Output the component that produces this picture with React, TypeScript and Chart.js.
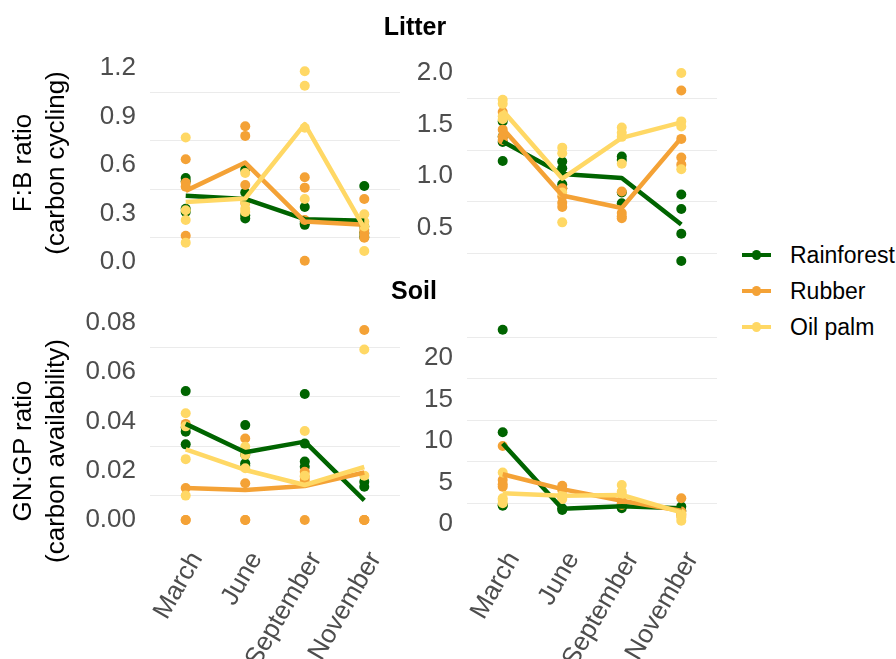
import React, { useEffect, useRef } from 'react';
import { Chart, registerables } from 'chart.js';
Chart.register(...registerables);

const FONT = "'Liberation Sans', Arial, Helvetica, sans-serif";

const months = ['March', 'June', 'September', 'November'];
const monthIndex = [0, 1, 2, 3];
const groups = ['Rainforest', 'Rubber', 'Oil palm'];
const groupColors = ['#006400', '#F4A236', '#FFD865'];

// ---- Litter, F:B ratio (points per month, per land use) ----
const litterFB_rainforest = [[0.52, 0.5, 0.33, 0.31], [0.57, 0.43, 0.29, 0.27], [0.34, 0.25, 0.24, 0.23], [0.47, 0.22, 0.18, 0.155]];
const litterFB_rubber = [[0.635, 0.49, 0.465, 0.163], [0.84, 0.78, 0.476, 0.365], [0.524, 0.46, 0.26, 0.008], [0.39, 0.2, 0.177, 0.15]];
const litterFB_oilpalm = [[0.77, 0.32, 0.26, 0.12], [0.55, 0.37, 0.33, 0.31], [1.18, 1.09, 0.83, 0.39], [0.295, 0.25, 0.22, 0.068]];
const litterFB_meanRainforest = [0.41, 0.39, 0.265, 0.255];
const litterFB_meanRubber = [0.44, 0.615, 0.25, 0.23];
const litterFB_meanOilpalm = [0.372, 0.393, 0.853, 0.21];

// ---- Litter, GN:GP ratio ----
const litterGN_rainforest = [[1.53, 1.38, 1.33, 1.146], [1.14, 1.075, 0.92, 0.88], [1.19, 1.155, 0.84, 0.735], [0.82, 0.68, 0.44, 0.175]];
const litterGN_rubber = [[1.62, 1.45, 1.38, 1.35], [0.88, 0.8, 0.74, 0.7], [0.85, 0.64, 0.61, 0.59], [1.83, 1.36, 1.11, 1.18]];
const litterGN_oilpalm = [[1.74, 1.7, 1.58, 1.55], [1.275, 1.22, 0.84, 0.55], [1.47, 1.42, 1.38, 1.12], [2.0, 1.53, 1.48, 1.065]];
const litterGN_meanRainforest = [1.335, 1.02, 0.98, 0.53];
const litterGN_meanRubber = [1.46, 0.81, 0.69, 1.37];
const litterGN_meanOilpalm = [1.635, 0.975, 1.37, 1.52];

// ---- Soil, F:B ratio ----
const soilFB_rainforest = [[0.0523, 0.0375, 0.0358, 0.0307], [0.0385, 0.0265, 0.023, 0.022], [0.0511, 0.031, 0.0237, 0.0216], [0.0155, 0.0135]];
const soilFB_rubber = [[0.039, 0.013, 0.0, 0.0], [0.0331, 0.0149, 0.0, 0.0], [0.0196, 0.0175, 0.0162, 0.0], [0.0771, 0.0, 0.0, 0.0]];
const soilFB_oilpalm = [[0.0433, 0.038, 0.0247, 0.0099], [0.0297, 0.0264, 0.021], [0.0361, 0.018], [0.0692, 0.018]];
const soilFB_meanRainforest = [0.039, 0.0275, 0.0318, 0.008];
const soilFB_meanRubber = [0.013, 0.0122, 0.0138, 0.0193];
const soilFB_meanOilpalm = [0.0287, 0.0203, 0.0142, 0.0215];

// ---- Soil, GN:GP ratio ----
const soilGN_rainforest = [[23.4, 11.05, 2.3, 2.2], [1.7, 1.9], [1.9, 2.3], [2.1, 1.6]];
const soilGN_rubber = [[9.4, 5.3, 4.8, 4.5], [4.6, 4.1, 3.3], [2.8, 2.5, 2.3], [3.1, 1.5, 1.2, 1.0]];
const soilGN_oilpalm = [[6.2, 3.1, 2.9, 2.5], [3.5, 3.0], [4.7, 3.9, 3.6], [1.2, 0.8, 0.4]];
const soilGN_meanRainforest = [9.7, 1.85, 2.15, 1.9];
const soilGN_meanRubber = [6.0, 4.2, 2.8, 1.6];
const soilGN_meanOilpalm = [3.7, 3.4, 3.5, 1.4];

// ---- tick labels / grid values ----
const tlTickValues = [0, 0.3, 0.6, 0.9, 1.2];
const tlTickLabels = ['0.0', '0.3', '0.6', '0.9', '1.2'];
const tlGridValues = [0.15, 0.45, 0.75, 1.05];
const trTickValues = [0.5, 1.0, 1.5, 2.0];
const trTickLabels = ['0.5', '1.0', '1.5', '2.0'];
const trGridValues = [0.25, 0.75, 1.25, 1.75];
const blTickValues = [0, 0.02, 0.04, 0.06, 0.08];
const blTickLabels = ['0.00', '0.02', '0.04', '0.06', '0.08'];
const blGridValues = [0.01, 0.03, 0.05, 0.07];
const brTickValues = [0, 5, 10, 15, 20];
const brTickLabels = ['0', '5', '10', '15', '20'];
const brGridValues = [2.5, 7.5, 12.5, 17.5, 22.5];

type PanelSpec = {
  left: number; top: number; w: number; h: number;
  padTop: number; padBottom: number; padRight: number;
  yWidth: number; xHeight: number; showX: boolean;
  yMin: number; yMax: number;
  tickValues: number[]; tickLabels: string[]; gridValues: number[];
  points: number[][][]; means: number[][];
};

const panels: PanelSpec[] = [
  {
    left: 60, top: 20, w: 350, h: 292, padTop: 40.5, padBottom: 40.4, padRight: 10,
    yWidth: 90, xHeight: 0, showX: false, yMin: -0.059, yMax: 1.246,
    tickValues: tlTickValues, tickLabels: tlTickLabels, gridValues: tlGridValues,
    points: [litterFB_rainforest, litterFB_rubber, litterFB_oilpalm],
    means: [litterFB_meanRainforest, litterFB_meanRubber, litterFB_meanOilpalm],
  },
  {
    left: 405, top: 20, w: 322, h: 292, padTop: 40.5, padBottom: 40.4, padRight: 10,
    yWidth: 62, xHeight: 0, showX: false, yMin: 0.072, yMax: 2.121,
    tickValues: trTickValues, tickLabels: trTickLabels, gridValues: trGridValues,
    points: [litterGN_rainforest, litterGN_rubber, litterGN_oilpalm],
    means: [litterGN_meanRainforest, litterGN_meanRubber, litterGN_meanOilpalm],
  },
  {
    left: 60, top: 280, w: 350, h: 379, padTop: 40.4, padBottom: 0, padRight: 10,
    yWidth: 90, xHeight: 129.5, showX: true, yMin: -0.00386, yMax: 0.081,
    tickValues: blTickValues, tickLabels: blTickLabels, gridValues: blGridValues,
    points: [soilFB_rainforest, soilFB_rubber, soilFB_oilpalm],
    means: [soilFB_meanRainforest, soilFB_meanRubber, soilFB_meanOilpalm],
  },
  {
    left: 405, top: 280, w: 322, h: 379, padTop: 40.4, padBottom: 0, padRight: 10,
    yWidth: 62, xHeight: 129.5, showX: true, yMin: -0.66, yMax: 24.53,
    tickValues: brTickValues, tickLabels: brTickLabels, gridValues: brGridValues,
    points: [soilGN_rainforest, soilGN_rubber, soilGN_oilpalm],
    means: [soilGN_meanRainforest, soilGN_meanRubber, soilGN_meanOilpalm],
  },
];

function buildDatasets(points: number[][][], means: number[][]) {
  const pointSets = points.map((byMonth, g) => ({
    label: groups[g],
    data: byMonth.flatMap((vals, m) => vals.map((v) => ({ x: monthIndex[m], y: v }))),
    backgroundColor: groupColors[g],
    borderColor: groupColors[g],
    borderWidth: 0,
    pointRadius: 5,
    pointBorderWidth: 0,
    showLine: false,
    order: 5 - g,
  }));
  const lineSets = means.map((vals, g) => ({
    label: groups[g] + ' mean',
    data: vals.map((v, m) => ({ x: monthIndex[m], y: v })),
    borderColor: groupColors[g],
    backgroundColor: groupColors[g],
    borderWidth: 4.5,
    borderJoinStyle: 'round',
    showLine: true,
    pointRadius: 0,
    order: 2 - g,
  }));
  return [...pointSets, ...lineSets];
}

function Panel({ spec }: { spec: PanelSpec }) {
  const ref = useRef<HTMLCanvasElement>(null);
  useEffect(() => {
    const allTicks = [...spec.tickValues, ...spec.gridValues].sort((a, b) => a - b);
    const chart = new Chart(ref.current as HTMLCanvasElement, {
      type: 'scatter',
      data: { datasets: buildDatasets(spec.points, spec.means) as any },
      options: {
        responsive: false,
        animation: false,
        events: [],
        layout: { padding: { left: 0, right: spec.padRight, top: spec.padTop, bottom: spec.padBottom } },
        plugins: { legend: { display: false }, tooltip: { enabled: false } },
        scales: {
          x: {
            type: 'linear',
            min: -0.6,
            max: 3.6,
            display: spec.showX,
            grid: { display: false, drawTicks: false },
            border: { display: false },
            afterBuildTicks: (s: any) => { s.ticks = monthIndex.map((v) => ({ value: v })); },
            afterFit: (s: any) => { s.height = spec.xHeight; },
            ticks: {
              autoSkip: false,
              minRotation: 60,
              maxRotation: 60,
              padding: 17,
              labelOffset: 11,
              color: '#4D4D4D',
              font: { family: FONT, size: 26 },
              callback: (v: any) => months[v as number] ?? '',
            },
          },
          y: {
            type: 'linear',
            min: spec.yMin,
            max: spec.yMax,
            border: { display: false },
            grid: {
              drawTicks: false,
              lineWidth: 1,
              color: (ctx: any) =>
                ctx.tick && spec.tickValues.includes(ctx.tick.value) ? 'rgba(0,0,0,0)' : '#EBEBEB',
            },
            afterBuildTicks: (s: any) => { s.ticks = allTicks.map((v) => ({ value: v })); },
            afterFit: (s: any) => { s.width = spec.yWidth; },
            ticks: {
              autoSkip: false,
              padding: 14,
              color: '#4D4D4D',
              font: { family: FONT, size: 26 },
              callback: (v: any) => {
                const i = spec.tickValues.indexOf(v as number);
                return i >= 0 ? spec.tickLabels[i] : '';
              },
            },
          },
        },
      } as any,
    });
    return () => chart.destroy();
  }, [spec]);
  return (
    <canvas
      ref={ref}
      width={spec.w}
      height={spec.h}
      style={{ position: 'absolute', left: spec.left, top: spec.top, width: spec.w, height: spec.h }}
    />
  );
}

const legendY = [255, 291, 327];

export default function App() {
  return (
    <div style={{ position: 'absolute', left: 0, top: 0, width: 896, height: 659, background: '#fff', overflow: 'hidden', fontFamily: FONT }}>
      {panels.map((p, i) => <Panel key={i} spec={p} />)}
      <div style={{ position: 'absolute', left: 415, top: 26, transform: 'translate(-50%,-50%)', fontWeight: 'bold', fontSize: 25, lineHeight: '29px', color: '#000', whiteSpace: 'nowrap' }}>Litter</div>
      <div style={{ position: 'absolute', left: 414, top: 290, transform: 'translate(-50%,-50%)', fontWeight: 'bold', fontSize: 25, lineHeight: '29px', color: '#000', whiteSpace: 'nowrap' }}>Soil</div>
      <div style={{ position: 'absolute', left: 38.5, top: 163, transform: 'translate(-50%,-50%) rotate(-90deg)', fontSize: 26, lineHeight: '33px', textAlign: 'center', color: '#000', whiteSpace: 'nowrap' }}>
        F:B ratio<br />(carbon cycling)
      </div>
      <div style={{ position: 'absolute', left: 38.5, top: 451, transform: 'translate(-50%,-50%) rotate(-90deg)', fontSize: 26, lineHeight: '33px', textAlign: 'center', color: '#000', whiteSpace: 'nowrap' }}>
        GN:GP ratio<br />(carbon availability)
      </div>
      {groups.map((g, i) => (
        <div key={g}>
          <div style={{ position: 'absolute', left: 742, top: legendY[i] - 2, width: 29, height: 4, background: groupColors[i] }} />
          <div style={{ position: 'absolute', left: 756.5 - 4.7, top: legendY[i] - 4.7, width: 9.4, height: 9.4, borderRadius: '50%', background: groupColors[i] }} />
          <div style={{ position: 'absolute', left: 790, top: legendY[i] - 15, height: 30, display: 'flex', alignItems: 'center', fontSize: 23, color: '#000', whiteSpace: 'nowrap' }}>{g}</div>
        </div>
      ))}
    </div>
  );
}
